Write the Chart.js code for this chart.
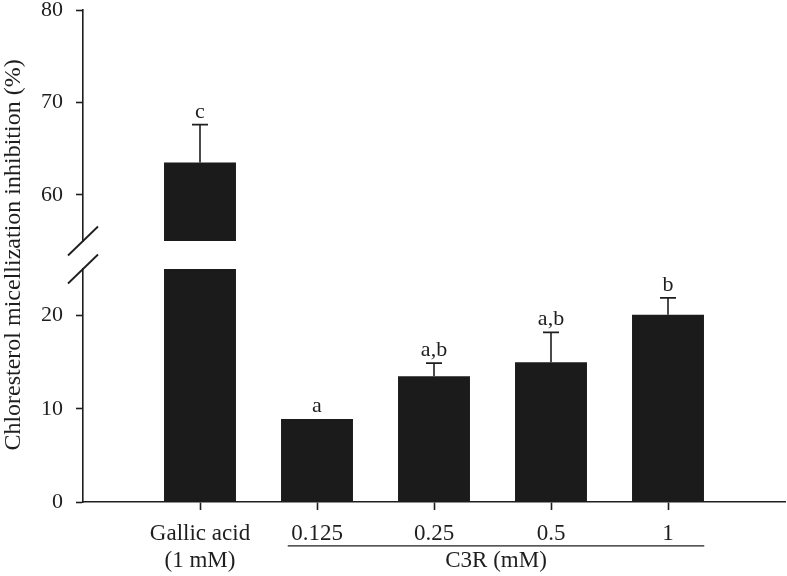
<!DOCTYPE html>
<html>
<head>
<meta charset="utf-8">
<title>Cholesterol micellization inhibition</title>
<script src="https://cdn.jsdelivr.net/npm/chart.js@4.4.0/dist/chart.umd.min.js"></script>
<style>
    html, body { margin: 0; padding: 0; background: #fff; }
    #wrap { width: 787px; height: 576px; }
</style>
</head>
<body>
<div id="wrap"><canvas id="micelleChart" width="787" height="576"></canvas></div>
<script>
// ---- data ----
var categories = [['Gallic acid', '(1 mM)'], '0.125', '0.25', '0.5', '1'];
var xPositions = [1, 2, 3, 4, 5];
var inhibition = [63.5, 8.9, 13.5, 15.0, 20.1];
var errorUp = [4.1, 0, 1.4, 3.2, 1.8];
var letters = ['c', 'a', 'a,b', 'a,b', 'b'];
var upperTicks = [60, 70, 80];
var lowerTicks = [0, 10, 20];
var upperRange = [55, 80];
var lowerRange = [0, 25];
var xRange = [0, 6];
var groupLabel = 'C3R (mM)';
var groupSpan = [1.75, 5.31]; // x units under the C3R labels

(function () {
    "use strict";

    var ink = '#1e1e1e';
    var barColor = '#1b1b1b';
    var serif = '"Liberation Serif", "Times New Roman", serif';

    // upper part only for values above the break, lower part is clipped at its max
    var upperData = xPositions.map(function (x, i) {
        return { x: x, y: inhibition[i] > upperRange[0] ? inhibition[i] : null };
    });
    var lowerData = xPositions.map(function (x, i) {
        return { x: x, y: Math.min(inhibition[i], lowerRange[1]) };
    });

    //error bars + letters
    var errorBarPlugin = {
        id: 'errorBars',
        afterDatasetsDraw: function (chart) {
            var ctx = chart.ctx;
            var xs = chart.scales.x;
            ctx.save();
            ctx.strokeStyle = ink;
            ctx.fillStyle = ink;
            ctx.lineWidth = 1.6;
            ctx.font = '22px ' + serif;
            ctx.textAlign = 'center';
            ctx.textBaseline = 'alphabetic';
            for (var i = 0; i < inhibition.length; i++) {
                var axis = inhibition[i] > lowerRange[1] ? chart.scales.yUpper : chart.scales.yLower;
                var cx = xs.getPixelForValue(xPositions[i]);
                var yBar = axis.getPixelForValue(inhibition[i]);
                var yErr = axis.getPixelForValue(inhibition[i] + errorUp[i]);
                if (errorUp[i] > 0) {
                    ctx.beginPath();
                    ctx.moveTo(cx, yBar);
                    ctx.lineTo(cx, yErr);
                    ctx.moveTo(cx - 8, yErr);
                    ctx.lineTo(cx + 8, yErr);
                    ctx.stroke();
                }
                ctx.fillText(letters[i], cx, yErr - 7);
            }
            ctx.restore();
        }
    };

    //axis break slashes + group line under C3R labels
    var decorPlugin = {
        id: 'decor',
        afterDraw: function (chart) {
            var ctx = chart.ctx;
            var up = chart.scales.yUpper;
            var lo = chart.scales.yLower;
            var xs = chart.scales.x;
            var ax = up.right;
            ctx.save();
            ctx.strokeStyle = ink;
            ctx.lineWidth = 1.8;
            [up.bottom, lo.top].forEach(function (y) {
                ctx.beginPath();
                ctx.moveTo(ax - 15, y + 14.5);
                ctx.lineTo(ax + 15, y - 14.5);
                ctx.stroke();
            });

            var lineH = 23 * 1.2;
            var firstMid = xs.top + 8 + 10 + lineH / 2;
            var x1 = xs.getPixelForValue(groupSpan[0]);
            var x2 = xs.getPixelForValue(groupSpan[1]);
            ctx.lineWidth = 1.2;
            ctx.beginPath();
            ctx.moveTo(x1, firstMid + 12);
            ctx.lineTo(x2, firstMid + 12);
            ctx.stroke();

            ctx.fillStyle = ink;
            ctx.font = '23px ' + serif;
            ctx.textAlign = 'center';
            ctx.textBaseline = 'middle';
            ctx.fillText(groupLabel, (x1 + x2) / 2, firstMid + lineH);
            ctx.restore();
        }
    };

    function valueAxis(range, ticks, weight, layoutWeight) {
        return {
            type: 'linear',
            position: 'left',
            stack: 'left',
            stackWeight: weight,
            weight: layoutWeight,
            min: range[0],
            max: range[1],
            beginAtZero: false,
            afterBuildTicks: function (scale) {
                scale.ticks = ticks.map(function (v) { return { value: v }; });
            },
            afterFit: function (scale) {
                scale.paddingTop = 0;
                scale.paddingBottom = 0;
            },
            ticks: {
                color: ink,
                padding: 13,
                font: { family: serif, size: 22 }
            },
            grid: {
                drawOnChartArea: false,
                tickLength: 7,
                tickColor: ink,
                tickWidth: 1.6
            },
            border: { color: ink, width: 1.6 }
        };
    }

    var ctx = document.getElementById('micelleChart').getContext('2d');
    new Chart(ctx, {
        type: 'bar',
        data: {
            datasets: [{
                data: upperData,
                yAxisID: 'yUpper',
                grouped: false,
                backgroundColor: barColor,
                borderWidth: 0,
                barPercentage: 0.615,
                categoryPercentage: 1
            }, {
                data: lowerData,
                yAxisID: 'yLower',
                grouped: false,
                backgroundColor: barColor,
                borderWidth: 0,
                barPercentage: 0.615,
                categoryPercentage: 1
            }]
        },
        options: {
            responsive: false,
            devicePixelRatio: 1,
            animation: false,
            layout: { padding: { top: 10, right: 2, bottom: 0, left: 0 } },
            plugins: {
                legend: { display: false },
                tooltip: { enabled: false }
            },
            scales: {
                x: {
                    type: 'linear',
                    position: 'bottom',
                    min: xRange[0],
                    max: xRange[1],
                    offset: false,
                    afterBuildTicks: function (scale) {
                        scale.ticks = xPositions.map(function (v) { return { value: v }; });
                    },
                    afterFit: function (scale) {
                        scale.height = 74;
                    },
                    ticks: {
                        autoSkip: false,
                        maxRotation: 0,
                        color: ink,
                        padding: 10,
                        font: { family: serif, size: 23, lineHeight: 1.2 },
                        callback: function (value, index) {
                            return categories[index];
                        }
                    },
                    grid: {
                        offset: false,
                        drawOnChartArea: false,
                        tickLength: 8,
                        tickColor: ink,
                        tickWidth: 1.6
                    },
                    border: { color: ink, width: 1.6 }
                },
                yUpper: valueAxis(upperRange, upperTicks, 231, 3),
                yGap: {
                    type: 'linear',
                    position: 'left',
                    stack: 'left',
                    stackWeight: 28,
                    weight: 2,
                    min: 0,
                    max: 1,
                    ticks: { display: false },
                    grid: { display: false },
                    border: { display: false },
                    title: {
                        display: true,
                        text: 'Chloresterol micellization inhibition (%)',
                        color: ink,
                        padding: 0,
                        font: { family: serif, size: 24, lineHeight: 1.15 }
                    },
                    afterFit: function (scale) {
                        scale.width = 83;
                    }
                },
                yLower: valueAxis(lowerRange, lowerTicks, 233, 1)
            }
        },
        plugins: [errorBarPlugin, decorPlugin]
    });
})();
</script>
</body>
</html>
